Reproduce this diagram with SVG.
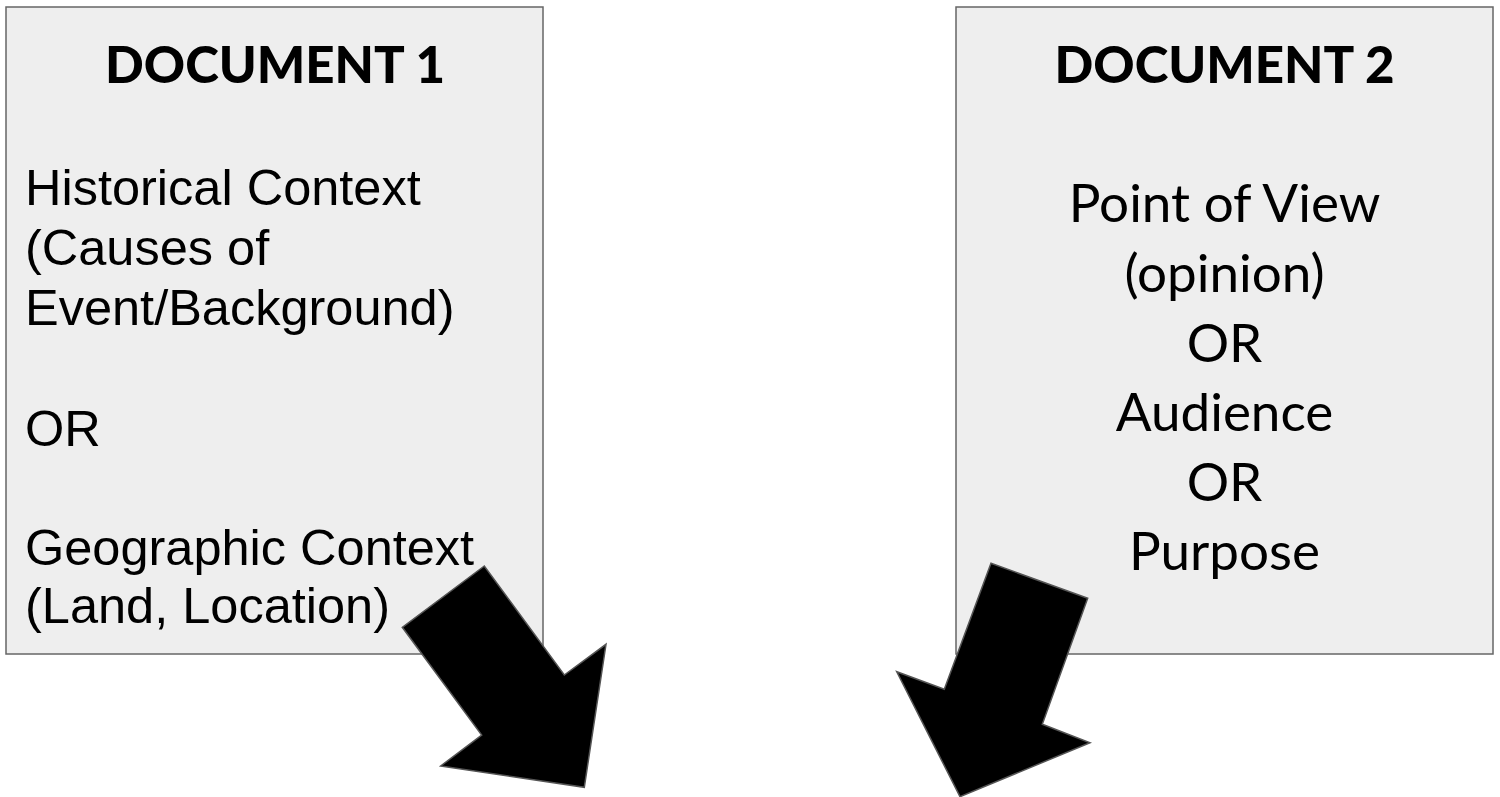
<svg xmlns="http://www.w3.org/2000/svg" width="1500" height="797" viewBox="0 0 1500 797">
<style>
.box{fill:#eeeeee;stroke:#666666;stroke-width:1.5}
.head{font-family:Lato,"Liberation Sans",sans-serif;font-weight:900;font-size:51px;fill:#000;text-anchor:middle}
.arial{font-family:"Liberation Sans",Arial,sans-serif;font-size:50.5px;fill:#000}
.geo{font-family:Lato,"Liberation Sans",sans-serif;font-size:53px;fill:#000;text-anchor:middle}
.arrow{fill:#000;stroke:#555555;stroke-width:1.5;stroke-linejoin:miter}
</style>
<rect width="1500" height="797" fill="#ffffff"/>
<g id="doc1">
<rect class="box" x="6" y="7" width="537" height="647"/>
<text class="head" x="275" y="83">DOCUMENT 1</text>
<text class="arial" x="25" y="205">Historical Context</text>
<text class="arial" x="25" y="265">(Causes of</text>
<text class="arial" x="25" y="325">Event/Background)</text>
<text class="arial" x="25" y="446">OR</text>
<text class="arial" x="25" y="565">Geographic Context</text>
<text class="arial" x="25" y="623">(Land, Location)</text>
</g>
<g id="doc2">
<rect class="box" x="956" y="7" width="537" height="647"/>
<text class="head" x="1224.5" y="83">DOCUMENT 2</text>
<text class="geo" x="1224.5" y="222">Point of View</text>
<text class="geo" x="1224.5" y="292">(opinion)</text>
<text class="geo" x="1224.5" y="362">OR</text>
<text class="geo" x="1224.5" y="431">Audience</text>
<text class="geo" x="1224.5" y="501">OR</text>
<text class="geo" x="1224.5" y="570">Purpose</text>
</g>
<g id="connectors">
<polygon class="arrow" points="484.3,566 402.3,627.3 481.7,735 440.7,766 584.3,787.3 606,644.3 564.3,675"/>
<polygon class="arrow" points="991,563.3 1087.7,598.3 1042.3,724.3 1090,742.7 960,796.7 896.7,671.7 944.3,689.3"/>
</g>
</svg>
